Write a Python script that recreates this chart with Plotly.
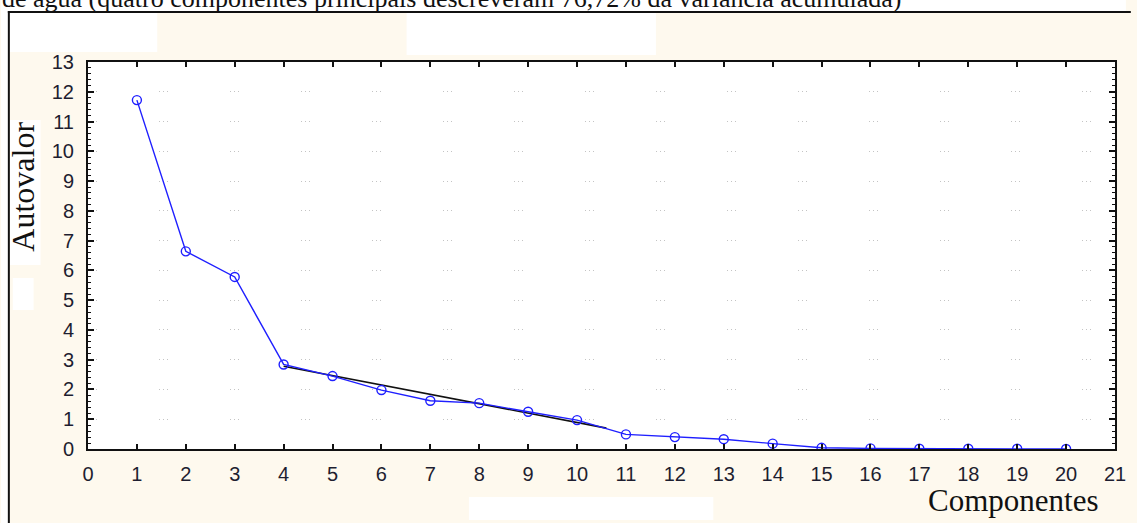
import plotly.graph_objects as go

# ---- data ----
componentes = [1, 2, 3, 4, 5, 6, 7, 8, 9, 10, 11, 12, 13, 14, 15, 16, 17, 18, 19, 20]
autovalores = [11.72, 6.64, 5.78, 2.84, 2.45, 1.98, 1.62, 1.54, 1.25, 0.97,
               0.49, 0.40, 0.33, 0.18, 0.04, 0.02, 0.01, 0.01, 0.01, 0.0]
fit_x = [4, 10.6]
fit_y = [2.78, 0.70]
x_ticks = list(range(0, 22))
y_ticks = list(range(0, 14))
title_text = "de água (quatro componentes principais descreveram 76,72% da variância acumulada)"
y_title = "Autovalor"
x_title = "Componentes"

W, H = 1137, 523
L, R, T, B = 88, 1126, 62, 449
PW, PH = R - L, B - T


def px(x):
    return (x - L) / PW


def py(y):
    return (B - y) / PH


SERIF = "Liberation Serif, Times New Roman, serif"
SANS = "Liberation Sans, Arial, sans-serif"
CREAM = "#FEF9EE"
TICKCOL = "#1e1e30"

fig = go.Figure()
fig.add_trace(go.Scatter(x=fit_x, y=fit_y, mode="lines",
                         line=dict(color="#111111", width=1.6),
                         showlegend=False, hoverinfo="skip"))
fig.add_trace(go.Scatter(x=componentes, y=autovalores, mode="lines+markers",
                         line=dict(color="#1f1fff", width=1.4),
                         marker=dict(symbol="circle-open", size=9,
                                     color="#1f1fff", line=dict(width=1.4)),
                         showlegend=False))

shapes = []
# white area above / left of the outer frame
shapes.append(dict(type="rect", xref="paper", yref="paper", layer="below",
                   x0=px(0), x1=px(W), y0=py(0), y1=py(12),
                   fillcolor="white", line=dict(width=0)))
shapes.append(dict(type="rect", xref="paper", yref="paper", layer="below",
                   x0=px(0), x1=px(8), y0=py(0), y1=py(H),
                   fillcolor="white", line=dict(width=0)))
# white scan patches
for (x0, x1, y0, y1) in [(8, 158, 12, 52), (410, 662, 12, 55), (9, 40, 120, 265),
                         (12, 33, 278, 310), (473, 720, 497, 520)]:
    shapes.append(dict(type="rect", xref="paper", yref="paper", layer="below",
                       x0=px(x0), x1=px(x1), y0=py(y0), y1=py(y1),
                       fillcolor="white", line=dict(width=0)))
# outer frame (top and left)
shapes.append(dict(type="line", xref="paper", yref="paper",
                   x0=px(7), x1=px(W + 5), y0=py(12), y1=py(12),
                   line=dict(color="#111111", width=2)))
shapes.append(dict(type="line", xref="paper", yref="paper",
                   x0=px(8), x1=px(8), y0=py(11), y1=py(H + 5),
                   line=dict(color="#111111", width=2)))

annotations = [
    dict(text=title_text, xref="paper", yref="paper", x=px(-1), y=py(15),
         xanchor="left", yanchor="bottom", showarrow=False,
         font=dict(family=SERIF, size=26, color="#111111")),
    dict(text=y_title, xref="paper", yref="paper", x=px(22), y=py(187),
         xanchor="center", yanchor="middle", textangle=-90, showarrow=False,
         font=dict(family=SERIF, size=32, color="#111111")),
    dict(text=x_title, xref="paper", yref="paper", x=px(1023), y=py(500),
         xanchor="center", yanchor="middle", showarrow=False,
         font=dict(family=SERIF, size=31, color="#111111")),
]

fig.update_layout(
    width=W, height=H,
    margin=dict(l=L, r=W - R, t=T, b=H - B, pad=0),
    paper_bgcolor=CREAM, plot_bgcolor="white",
    shapes=shapes, annotations=annotations,
    font=dict(family=SANS, size=20, color=TICKCOL),
)
fig.update_xaxes(range=[0, 21], tickvals=x_ticks, ticktext=[str(v) for v in x_ticks],
                 showgrid=False, zeroline=False,
                 showline=True, linecolor="#111111", linewidth=2, mirror="ticks",
                 ticks="inside", ticklen=5, tickwidth=1.5, tickcolor="#111111",
                 ticklabelstandoff=6,
                 tickfont=dict(family=SANS, size=20, color=TICKCOL))
fig.update_yaxes(range=[0, 13], tickvals=y_ticks, ticktext=[str(v) for v in y_ticks],
                 showgrid=True, gridcolor="#c4c4c4", gridwidth=1,
                 griddash="1px,3px,1px,3px,1px,62px",
                 zeroline=False,
                 showline=True, linecolor="#111111", linewidth=2, mirror="ticks",
                 ticks="inside", ticklen=6, tickwidth=1.5, tickcolor="#111111",
                 minor=dict(dtick=0.2, ticks="inside", ticklen=3, tickwidth=1,
                            tickcolor="#111111", showgrid=False),
                 ticklabelstandoff=8,
                 tickfont=dict(family=SANS, size=20, color=TICKCOL))

fig.write_html("out.html",
               config={"displayModeBar": False},
               post_script="document.body.style.margin='0px';"
                           "document.body.style.overflow='hidden';")
